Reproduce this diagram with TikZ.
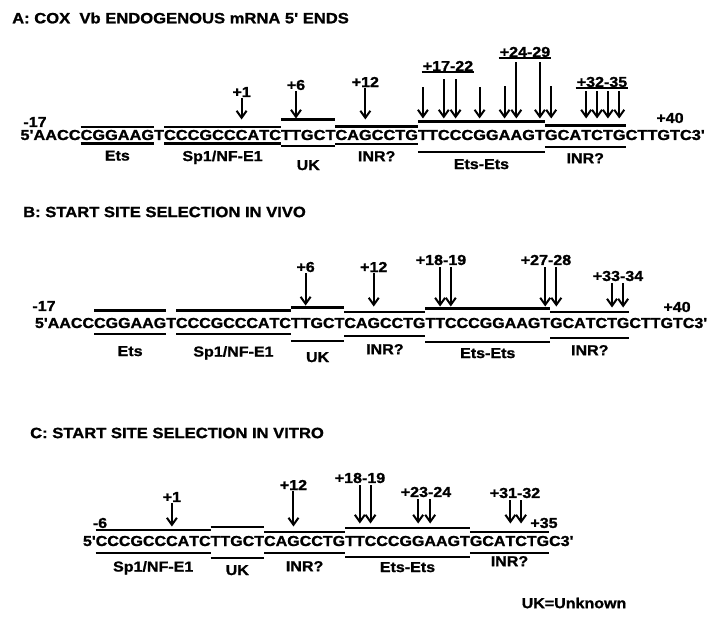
\documentclass[tikz,border=0pt]{standalone}
\usepackage{fontspec}
\newfontfamily\seqfont[FakeStretch=1.11,FakeBold=1.2]{Liberation Sans Bold}
\newfontfamily\seqfontwide[FakeStretch=1.13,FakeBold=1.2]{Liberation Sans Bold}
\usetikzlibrary{arrows.meta}

% sequences, one letter per entry
\newcommand{\dnafull}{A,A,C,C,C,G,G,A,A,G,T,C,C,C,G,C,C,C,A,T,C,T,T,G,C,T,C,A,G,C,C,T,G,T,T,C,C,C,G,G,A,A,G,T,G,C,A,T,C,T,G,C,T,T,G,T,C}
\newcommand{\dnashort}{C,C,C,G,C,C,C,A,T,C,T,T,G,C,T,C,A,G,C,C,T,G,T,T,C,C,C,G,G,A,A,G,T,G,C,A,T,C,T,G,C}

% #1 row, #2 first, #3 last, #4 gap above, #5 gap below, #6 label, #7 label gap
\newcommand{\motif}[7]{%
  \draw[bar] ([yshift=#4]#1#2.north west) -- ([yshift=#4]#1#3.north east);
  \draw[bar] ([yshift=-#5]#1#2.base west) -- ([yshift=-#5]#1#3.base east)
    node[lbl, midway, below=#7] (#1#2m) {#6};}

\tikzset{
  nt/.style={inner sep=0pt, outer sep=0pt, anchor=base west, text height=10.5bp, text depth=0pt,
    font=\seqfont\fontsize{14.5}{16}\selectfont},
  ntwide/.style={nt, font=\seqfontwide\fontsize{14.5}{16}\selectfont},
  lbl/.style={inner sep=1pt, font=\seqfont\fontsize{14.5}{16}\selectfont},
  ttl/.style={inner sep=0pt, anchor=west, font=\seqfont\fontsize{15}{17}\selectfont},
  bar/.style={line width=2.2bp},
  arr/.style={line width=2bp, -{Straight Barb[length=7bp,width=10bp]}},
}

\begin{document}
\begin{tikzpicture}[x=1bp, y=-1bp]
\useasboundingbox (0,0) rectangle (709,623);

% A: endogenous 5' ends
\node[ttl] (ta) at (12,18) {A: COX\ \ Vb ENDOGENOUS mRNA 5' ENDS};
\node[ntwide] (a0) at (20.5,140) {5'\hspace{4.5bp}};
\foreach \b [count=\i, evaluate=\i as \j using int(\i-1)] in \dnafull
  \node[ntwide] (a\i) at (a\j.base east) {\b};
\node[ntwide] (a58) at (a57.base east) {3'};
\node[lbl] (a17l) at (35,122) {-17};
\node[lbl] (a40l) at (670,118) {+40};
\motif{a}{5}{10}{2.5bp}{3.5bp}{Ets}{5bp}
\motif{a}{12}{21}{2.5bp}{3.5bp}{Sp1/NF-E1}{5bp}
\motif{a}{22}{26}{10bp}{6bp}{UK}{12bp}
\motif{a}{27}{33}{3bp}{4bp}{INR?}{5bp}
\motif{a}{34}{44}{8bp}{12bp}{Ets-Ets}{5bp}
\motif{a}{45}{51}{4bp}{7bp}{INR?}{4bp}
\node[lbl] (pa1) at (a18 |- 0,92) {+1};
\draw[arr] (pa1) -- ([yshift=10bp]a18.north);
\node[lbl] (pa6) at (a23 |- 0,85) {+6};
\draw[arr] (pa6) -- ([yshift=11bp]a23.north);
\node[lbl] (pa12) at (a29 |- 0,82) {+12};
\draw[arr] (pa12) -- ([yshift=10bp]a29.north);
\node[lbl] (ga17) at (448,66) {+17-22};
\draw[bar] (ga17.south west) -- (ga17.south east);
\foreach \k/\d in {34/15bp, 36/7bp, 37/7bp, 39/15bp}
  \draw[arr] ([yshift=-\d]a\k |- ga17.south) -- ([yshift=11bp]a\k.north);
\node[lbl] (ga24) at (525,52) {+24-29};
\draw[bar] (ga24.south west) -- (ga24.south east);
\foreach \k/\d in {41/28bp, 42/4bp, 44/4bp, 45/28bp}
  \draw[arr] ([yshift=-\d]a\k |- ga24.south) -- ([yshift=11bp]a\k.north);
\node[lbl] (ga32) at (602,82) {+32-35};
\draw[bar] (ga32.south west) -- (ga32.south east);
\foreach \k in {48,49,50,51}
  \draw[arr] ([yshift=-3bp]a\k |- ga32.south) -- ([yshift=11bp]a\k.north);

% B: in vivo
\node[ttl] (tb) at (23,212) {B: START SITE SELECTION IN VIVO};
\node[nt] (b0) at (35,328) {5'};
\foreach \b [count=\i, evaluate=\i as \j using int(\i-1)] in \dnafull
  \node[nt] (b\i) at (b\j.base east) {\b};
\node[nt] (b58) at (b57.base east) {3'};
\node[lbl] (b17l) at (44,306) {-17};
\node[lbl] (b40l) at (677,307) {+40};
\motif{b}{5}{10}{7bp}{6bp}{Ets}{10bp}
\motif{b}{12}{21}{7bp}{6bp}{Sp1/NF-E1}{10bp}
\motif{b}{22}{26}{10bp}{13bp}{UK}{9bp}
\motif{b}{27}{33}{5.5bp}{8bp}{INR?}{6bp}
\motif{b}{34}{44}{9bp}{14bp}{Ets-Ets}{4bp}
\motif{b}{45}{51}{5.5bp}{10bp}{INR?}{5bp}
\node[lbl] (pb6) at (b23 |- 0,267) {+6};
\draw[arr] (pb6) -- ([yshift=12bp]b23.north);
\node[lbl] (pb12) at (b29 |- 0,267) {+12};
\draw[arr] (pb12) -- ([yshift=11bp]b29.north);
\node[lbl] (gb18) at (441,260) {+18-19};
\foreach \k in {35,36}
  \draw[arr] ([yshift=-1bp]b\k |- gb18.south) -- ([yshift=11bp]b\k.north);
\node[lbl] (gb27) at (546,260) {+27-28};
\foreach \k in {44,45}
  \draw[arr] ([yshift=-1bp]b\k |- gb27.south) -- ([yshift=11bp]b\k.north);
\node[lbl] (gb33) at (618,276) {+33-34};
\foreach \k in {50,51}
  \draw[arr] ([yshift=-1bp]b\k |- gb33.south) -- ([yshift=10bp]b\k.north);

% C: in vitro
\node[ttl] (tc) at (30,433) {C: START SITE SELECTION IN VITRO};
\node[nt] (c0) at (83,546) {5'};
\foreach \b [count=\i, evaluate=\i as \j using int(\i-1)] in \dnashort
  \node[nt] (c\i) at (c\j.base east) {\b};
\node[nt] (c42) at (c41.base east) {3'};
\node[lbl] (c6l) at (100,523) {-6};
\node[lbl] (c35l) at (544,523) {+35};
\motif{c}{1}{10}{5.5bp}{7bp}{Sp1/NF-E1}{6bp}
\motif{c}{11}{15}{8.5bp}{12bp}{UK}{5bp}
\motif{c}{16}{22}{3.5bp}{7bp}{INR?}{6bp}
\motif{c}{23}{33}{7.5bp}{11bp}{Ets-Ets}{3bp}
\motif{c}{34}{40}{3.5bp}{7bp}{INR?}{1bp}
\node[lbl] (pc1) at (c7 |- 0,497) {+1};
\draw[arr] (pc1) -- ([yshift=9bp]c7.north);
\node[lbl] (pc12) at (c18 |- 0,485) {+12};
\draw[arr] (pc12) -- ([yshift=9bp]c18.north);
\node[lbl] (gc18) at (360,478) {+18-19};
\foreach \k in {24,25}
  \draw[arr] ([yshift=-1bp]c\k |- gc18.south) -- ([yshift=12bp]c\k.north);
\node[lbl] (gc23) at (426,492) {+23-24};
\foreach \k in {29,30}
  \draw[arr] ([yshift=-1bp]c\k |- gc23.south) -- ([yshift=12bp]c\k.north);
\node[lbl] (gc31) at (515,493) {+31-32};
\foreach \k in {37,38}
  \draw[arr] ([yshift=-1bp]c\k |- gc31.south) -- ([yshift=12bp]c\k.north);

\node[lbl] (key) at (574,603) {UK=Unknown};
\end{tikzpicture}
\end{document}
